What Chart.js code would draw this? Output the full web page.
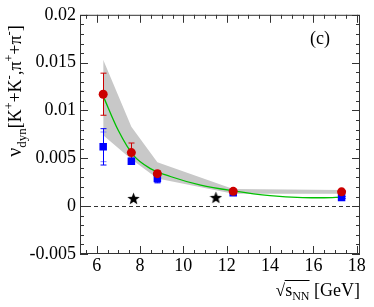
<!DOCTYPE html>
<html>
<head>
<meta charset="utf-8">
<script src="https://cdn.jsdelivr.net/npm/chart.js@4.4.1/dist/chart.umd.min.js"></script>
<style>
  body { margin: 0; background: #fff; }
  #wrap { width: 374px; height: 307px; }
</style>
</head>
<body>
<div id="wrap"><canvas id="c"></canvas></div>
<script>
// values
const energies = [6.3, 7.6, 8.8, 12.3, 17.3];
const redVals = [0.0117, 0.0056, 0.0034, 0.00155, 0.0015];
const redErr = [0.0022, 0.001, 0.0003, 0.0001, 0.0001];
const blueVals = [0.0062, 0.0047, 0.0029, 0.0014, 0.0009];
const blueErr = [0.0019, 0.0003, 0.0004, 0.0001, 0.0001];
const blueSys = [0.00155, 0.0002, 0.0005, 0.0001, 0.0001];
const starX = [7.7, 11.5];
const starVals = [0.0008, 0.0009];
const bandUpper = [0.0153, 0.0083, 0.0046, 0.0018, 0.0017];
const bandLower = [0.0074, 0.0049, 0.0029, 0.0013, 0.0013];
const fitX = [6.3, 7.0, 7.7, 8.5, 9.4, 10.8, 12.3, 14, 15.5, 16.5, 17.3];
const fitVals = [0.0115, 0.0079, 0.0053, 0.0039, 0.0031, 0.0022, 0.0016, 0.0011, 0.0009, 0.00088, 0.00095];
const xTicks = [6, 8, 10, 12, 14, 16, 18];
const yTicks = [-0.005, 0, 0.005, 0.01, 0.015, 0.02];

const FONT = '"Liberation Serif", "DejaVu Serif", serif';
const pts = (xs, ys) => xs.map((x, i) => ({ x: x, y: ys[i] }));

// filled star marker
function makeStar(size) {
  const cv = document.createElement('canvas');
  cv.width = size; cv.height = size;
  const c = cv.getContext('2d');
  const r = size / 2, ri = r * 0.42;
  c.beginPath();
  for (let i = 0; i < 10; i++) {
    const rad = i % 2 ? ri : r;
    const a = -Math.PI / 2 + i * Math.PI / 5;
    c.lineTo(r + rad * Math.cos(a), r + 0.5 + rad * Math.sin(a));
  }
  c.closePath();
  c.fillStyle = '#000';
  c.fill();
  return cv;
}

function drawRich(ctx, parts, x, y) {
  let cx = x;
  parts.forEach(p => {
    ctx.font = p.size + 'px ' + FONT;
    ctx.fillText(p.t, cx, y + (p.dy || 0));
    cx += ctx.measureText(p.t).width;
  });
  return cx - x;
}
function richWidth(ctx, parts) {
  let w = 0;
  parts.forEach(p => { ctx.font = p.size + 'px ' + FONT; w += ctx.measureText(p.t).width; });
  return w;
}

function errBar(ctx, xs, x, y, v, e, color, hw) {
  const px = Math.round(x.getPixelForValue(xs)) + 0.5;
  const top = y.getPixelForValue(v + e), bot = y.getPixelForValue(v - e);
  ctx.strokeStyle = color;
  ctx.beginPath();
  ctx.moveTo(px, top); ctx.lineTo(px, bot);
  ctx.moveTo(px - hw, top); ctx.lineTo(px + hw, top);
  ctx.moveTo(px - hw, bot); ctx.lineTo(px + hw, bot);
  ctx.stroke();
}

// error bars go after the fit line, under the markers
const errorBars = {
  id: 'errorBars',
  afterDatasetDraw(chart, args) {
    if (args.index !== 3) return;
    const { ctx, scales: { x, y } } = chart;
    ctx.save();
    ctx.lineWidth = 1;
    energies.forEach((e, i) => {
      errBar(ctx, e, x, y, blueVals[i], blueSys[i], '#8080ff', 3);
      errBar(ctx, e, x, y, blueVals[i], blueErr[i], '#0000ff', 3);
      errBar(ctx, e, x, y, redVals[i], redErr[i], '#cc0000', 3);
    });
    ctx.restore();
  }
};

// frame, inward ticks, zero line and texts
const decor = {
  id: 'decor',
  afterDraw(chart) {
    const { ctx, chartArea: a, scales: { x, y } } = chart;
    ctx.save();
    ctx.lineWidth = 1;
    ctx.strokeStyle = '#333';

    // dashed zero line
    const y0 = Math.round(y.getPixelForValue(0)) + 0.5;
    ctx.setLineDash([4, 3]);
    ctx.beginPath(); ctx.moveTo(a.left, y0); ctx.lineTo(a.right, y0); ctx.stroke();
    ctx.setLineDash([]);

    ctx.strokeRect(a.left + 0.5, a.top + 0.5, a.right - a.left - 1, a.bottom - a.top - 1);

    ctx.beginPath();
    for (let k = Math.ceil(x.min * 2); k <= Math.floor(x.max * 2); k++) {
      const px = Math.round(x.getPixelForValue(k / 2)) + 0.5;
      const len = k % 4 === 0 ? 8 : 4;
      ctx.moveTo(px, a.bottom); ctx.lineTo(px, a.bottom - len);
      ctx.moveTo(px, a.top); ctx.lineTo(px, a.top + len);
    }
    for (let k = -5; k <= 20; k++) {
      const py = Math.round(y.getPixelForValue(k / 1000)) + 0.5;
      const len = k % 5 === 0 ? 8 : 4;
      ctx.moveTo(a.left, py); ctx.lineTo(a.left + len, py);
      ctx.moveTo(a.right, py); ctx.lineTo(a.right - len, py);
    }
    ctx.stroke();

    ctx.fillStyle = '#000';
    ctx.textBaseline = 'alphabetic';
    ctx.textAlign = 'left';

    // panel label
    ctx.font = '18px ' + FONT;
    ctx.fillText('(c)', 310, 44);

    // y title
    const yParts = [
      { t: 'ν', size: 20 }, { t: 'dyn', size: 13, dy: 5 },
      { t: '[K', size: 18 }, { t: '+', size: 12, dy: -8 },
      { t: '+K', size: 18 }, { t: '-', size: 13, dy: -8 },
      { t: ',π', size: 18 }, { t: '+', size: 12, dy: -8 },
      { t: '+π', size: 18 }, { t: '-', size: 13, dy: -8 },
      { t: ']', size: 18 }
    ];
    const yw = richWidth(ctx, yParts);
    ctx.save();
    ctx.translate(21, 91);
    ctx.rotate(-Math.PI / 2);
    drawRich(ctx, yParts, -yw / 2, 0);
    ctx.restore();

    // x title
    const xParts = [
      { t: '√', size: 17 }, { t: 's', size: 18 }, { t: 'NN', size: 12, dy: 4 },
      { t: ' [GeV]', size: 18 }
    ];
    const xw = richWidth(ctx, xParts);
    const x0 = 360 - xw;
    drawRich(ctx, xParts, x0, 296);
    ctx.font = '17px ' + FONT;
    const rw = ctx.measureText('√').width;
    ctx.font = '18px ' + FONT;
    const sw = ctx.measureText('s').width;
    ctx.font = '12px ' + FONT;
    const nw = ctx.measureText('NN').width;
    ctx.strokeStyle = '#000';
    ctx.beginPath();
    ctx.moveTo(x0 + rw - 0.5, 280.5);
    ctx.lineTo(x0 + rw + sw + nw, 280.5);
    ctx.stroke();

    ctx.restore();
  }
};

new Chart(document.getElementById('c'), {
  type: 'scatter',
  data: {
    datasets: [
      {
        label: 'stars', data: pts(starX, starVals),
        pointStyle: makeStar(13), pointRadius: 6, showLine: false
      },
      {
        label: 'red', data: pts(energies, redVals),
        pointStyle: 'circle', pointRadius: 4.5,
        backgroundColor: '#cc0000', borderColor: '#cc0000', borderWidth: 0, showLine: false
      },
      {
        label: 'blue', data: pts(energies, blueVals),
        pointStyle: 'rect', pointRadius: 5.3,
        backgroundColor: '#0000ff', borderColor: '#0000ff', borderWidth: 0, showLine: false
      },
      {
        label: 'fit', data: pts(fitX, fitVals),
        showLine: true, borderColor: '#00c000', borderWidth: 1.3,
        pointRadius: 0, cubicInterpolationMode: 'monotone', fill: false
      },
      {
        label: 'band upper', data: pts(energies, bandUpper),
        showLine: true, borderWidth: 0, borderColor: 'rgba(0,0,0,0)', pointRadius: 0,
        fill: '+1', backgroundColor: '#c8c8c8', tension: 0
      },
      {
        label: 'band lower', data: pts(energies, bandLower),
        showLine: true, borderWidth: 0, borderColor: 'rgba(0,0,0,0)', pointRadius: 0,
        fill: false, tension: 0
      }
    ]
  },
  options: {
    responsive: true,
    maintainAspectRatio: false,
    animation: false,
    layout: { padding: { top: 14, right: 14, left: 0, bottom: 0 } },
    plugins: { legend: { display: false }, tooltip: { enabled: false } },
    scales: {
      x: {
        type: 'linear', min: 5.23, max: 18.15,
        afterBuildTicks: s => { s.ticks = xTicks.map(v => ({ value: v })); },
        afterFit: s => { s.height = 53; },
        grid: { display: false, drawTicks: false },
        border: { display: false },
        ticks: { padding: 1, color: '#000', font: { family: FONT, size: 18 } }
      },
      y: {
        type: 'linear', min: -0.005, max: 0.02,
        afterBuildTicks: s => { s.ticks = yTicks.map(v => ({ value: v })); },
        afterFit: s => { s.width = 80; },
        grid: { display: false, drawTicks: false },
        border: { display: false },
        ticks: {
          padding: 4, color: '#000', font: { family: FONT, size: 18 },
          callback: v => String(Number(v.toFixed(3)))
        }
      }
    }
  },
  plugins: [errorBars, decor]
});
</script>
</body>
</html>
